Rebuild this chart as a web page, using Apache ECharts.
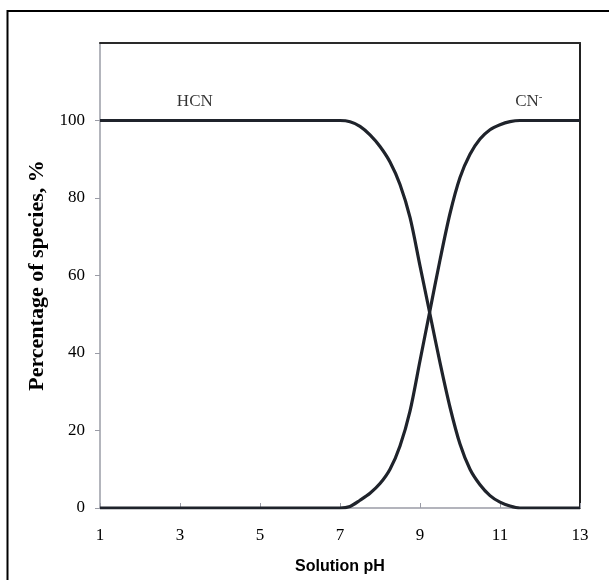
<!DOCTYPE html>
<html>
<head>
<meta charset="utf-8">
<script src="https://cdn.jsdelivr.net/npm/echarts@6/dist/echarts.min.js"></script>
<style>html,body{margin:0;padding:0;background:#fff;}#c{width:609px;height:580px;}</style>
</head>
<body>
<div id="c"></div>
<script>
var pH  = [1,1.25,1.5,1.75,2,2.25,2.5,2.75,3,3.25,3.5,3.75,4,4.25,4.5,4.75,5,5.25,5.5,5.75,6,6.25,6.5,6.75,
           7,7.25,7.5,7.75,8,8.25,8.5,8.75,9,9.25,9.5,9.75,10,10.25,10.5,10.75,11,11.25,11.5,
           11.75,12,12.25,12.5,12.75,13];
var HCN = [100,100,100,100,100,100,100,100,100,100,100,100,100,100,100,100,100,100,100,100,100,100,100,100,
           100,99.7,98.5,96.3,93.3,89.3,83.5,75,62.5,50,37.5,26,16.5,10,6,3.2,1.5,0.5,0,
           0,0,0,0,0,0];
var CN  = [0,0,0,0,0,0,0,0,0,0,0,0,0,0,0,0,0,0,0,0,0,0,0,0,
           0,0.4,2,3.8,6.3,10,16,25,38,51,64,76,85.3,91.3,95.2,97.6,98.9,99.7,100,
           100,100,100,100,100,100];
var xTicks = [1,3,5,7,9,11,13];
var yTicks = [0,20,40,60,80,100];
var speciesLabels = [{name:'HCN', x:3.37, y:105}, {name:'CN', x:11.72, y:105}];

var chart = echarts.init(document.getElementById('c'), null, {renderer:'canvas'});
var lineColor = '#1f232b';
var serif = '"Liberation Serif","Times New Roman",serif';
chart.setOption({
  animation:false,
  backgroundColor:'#fff',
  grid:{left:100, right:29, top:43, bottom:72},
  graphic:[{type:'rect', shape:{x:7.5, y:11, width:700, height:700}, style:{fill:'none', stroke:'#000', lineWidth:2}, z:-1}],
  xAxis:[{
    type:'value', min:xTicks[0], max:xTicks[xTicks.length-1], interval:2,
    name:'Solution pH', nameLocation:'middle', nameGap:51,
    nameTextStyle:{fontFamily:'"Liberation Sans",Arial,sans-serif', fontWeight:'bold', fontSize:16, color:'#000'},
    axisLine:{lineStyle:{color:'#9a9ca6', width:1.5}},
    axisTick:{inside:true, length:5, lineStyle:{color:'#9a9ca6'}},
    axisLabel:{fontFamily:serif, fontSize:17, color:'#000', margin:19},
    splitLine:{show:false}
  },{
    type:'value', position:'top', min:1, max:13,
    axisLine:{show:true, onZero:false, lineStyle:{color:'#2a2a2a', width:2}},
    axisTick:{show:false}, axisLabel:{show:false}, splitLine:{show:false}
  }],
  yAxis:[{
    type:'value', min:0, max:120, interval:20,
    name:'Percentage of species, %', nameLocation:'middle', nameGap:52, nameRotate:90,
    nameTextStyle:{fontFamily:serif, fontWeight:'bold', fontSize:22, color:'#000'},
    axisLine:{show:true, lineStyle:{color:'#9a9ca6', width:1.5}},
    axisTick:{show:true, length:5, lineStyle:{color:'#9a9ca6'}},
    axisLabel:{fontFamily:serif, fontSize:17, color:'#000', margin:15, showMaxLabel:false,
      formatter:function(v){return yTicks.indexOf(v)>=0 ? String(v) : '';}},
    splitLine:{show:false}
  },{
    type:'value', position:'right', min:0, max:120,
    axisLine:{show:true, onZero:false, lineStyle:{color:'#222', width:2}},
    axisTick:{show:false}, axisLabel:{show:false}, splitLine:{show:false}
  }],
  series:[
    {type:'line', name:'HCN', data:pH.map(function(p,i){return [p,HCN[i]];}), smooth:0.3,
     showSymbol:false, lineStyle:{color:lineColor, width:3.2}, z:3},
    {type:'line', name:'CN', data:pH.map(function(p,i){return [p,CN[i]];}), smooth:0.3,
     showSymbol:false, lineStyle:{color:lineColor, width:3.2}, z:3},
    {type:'scatter', symbolSize:0, silent:true,
     data:speciesLabels.map(function(d){return {value:[d.x,d.y], name:d.name};}),
     label:{show:true, position:'inside', fontFamily:serif, fontSize:17, color:'#000',
       formatter:function(p){return p.name==='CN' ? 'CN{s|-}' : p.name;},
       rich:{s:{fontFamily:serif, fontSize:11, color:'#000', verticalAlign:'top', padding:[0,0,8,0]}}}}
  ]
});
</script>
</body>
</html>
